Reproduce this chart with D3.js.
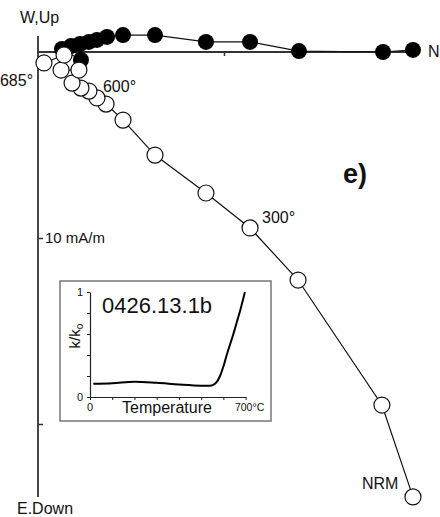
<!DOCTYPE html>
<html>
<head>
<meta charset="utf-8">
<script src="https://cdn.jsdelivr.net/npm/d3@7"></script>
<style>
  html, body { margin: 0; padding: 0; background: #fff; }
  svg { display: block; font-family: "Liberation Sans", Arial, Helvetica, sans-serif; }
</style>
</head>
<body>
<svg id="chart" width="440" height="517"></svg>
<script>
// Demagnetisation steps, NRM first (mA/m)
// Horizontal projection: north component vs west (up) component
const horizNorth = [20.16, 18.55, 14.03, 11.40, 9.03, 6.29, 4.57, 3.71, 3.17, 2.74, 2.26, 1.77, 2.31, 1.29];
const horizWest  = [0.11, 0.00, 0.05, 0.54, 0.54, 0.91, 0.91, 0.81, 0.65, 0.54, 0.43, 0.32, -0.43, 0.16];
// Vertical projection: north component vs down component
const vertNorth = [20.16, 18.49, 13.98, 11.40, 9.03, 6.29, 4.57, 3.66, 3.17, 2.74, 2.31, 1.83, 2.20, 1.24, 1.40, 0.32];
const vertDown  = [23.92, 18.98, 12.26, 9.46, 7.58, 5.54, 3.66, 2.80, 2.47, 2.10, 1.94, 1.67, 0.97, 0.97, 0.16, 0.59];
// Step labels and the vertical-projection point each one marks
const stepLabels = ["NRM", "300°", "600°", "685°"];
const stepIndex  = [0, 3, 9, 15];
const axisTicks = [10, 20];

// Susceptibility vs temperature (inset)
const tempC = [15, 100, 200, 300, 400, 500, 540, 565, 585, 600, 615, 630, 645, 660, 675, 690, 697];
const kRatio = [0.125, 0.13, 0.145, 0.135, 0.12, 0.108, 0.106, 0.13, 0.2, 0.29, 0.4, 0.5, 0.6, 0.71, 0.82, 0.94, 1.0];
const tempTicks = [0, 100, 200, 300, 400, 500, 600, 700];
const kTicks = [0, 0.2, 0.4, 0.6, 0.8, 1];

const svg = d3.select("#chart");
const ink = "#111";

const x = d3.scaleLinear().domain([0, 20]).range([38, 410]);
const y = d3.scaleLinear().domain([0, 20]).range([52, 424]); // down positive

// Axes
svg.append("line")
  .attr("x1", x(0)).attr("x2", x(20.45))
  .attr("y1", y(0)).attr("y2", y(0))
  .attr("stroke", "#333").attr("stroke-width", 1.8);
svg.append("line")
  .attr("x1", x(0)).attr("x2", x(0))
  .attr("y1", y(-0.86)).attr("y2", y(23.92))
  .attr("stroke", "#333").attr("stroke-width", 1.8);

const xAxis = svg.append("g")
  .attr("transform", `translate(0,${y(0)})`)
  .call(d3.axisBottom(x).tickValues([10]).tickSize(4).tickSizeOuter(0).tickFormat(""));
xAxis.select(".domain").remove();
xAxis.selectAll("line").attr("stroke", "#333").attr("stroke-width", 1.5);

const yAxis = svg.append("g")
  .attr("transform", `translate(${x(0)},0)`)
  .call(d3.axisRight(y).tickValues(axisTicks).tickSize(5).tickSizeOuter(0).tickPadding(2)
    .tickFormat(d => d === 10 ? "10 mA/m" : ""));
yAxis.select(".domain").remove();
yAxis.selectAll("line").attr("stroke", "#333").attr("stroke-width", 1.5);
yAxis.selectAll("text").attr("font-size", 15).attr("fill", ink)
  .attr("font-family", "Liberation Sans, Arial, sans-serif");

// Axis direction labels
const lab = (t, px, py, size, anchor) => svg.append("text")
  .attr("x", px).attr("y", py).attr("font-size", size).attr("fill", ink)
  .attr("text-anchor", anchor || "start").text(t);
lab("W,Up", 20, 23, 16);
lab("E.Down", 17, 514, 16);
lab("N", 428, 57, 16);

// Horizontal projection (filled)
const horiz = horizNorth.map((n, i) => [x(n), y(-horizWest[i])]);
svg.append("path").attr("d", d3.line()(horiz))
  .attr("fill", "none").attr("stroke", ink).attr("stroke-width", 1.2);
svg.append("g").selectAll("circle").data(horiz).join("circle")
  .attr("cx", d => d[0]).attr("cy", d => d[1]).attr("r", 8)
  .attr("fill", "#000");

// Vertical projection (open)
const vert = vertNorth.map((n, i) => [x(n), y(vertDown[i])]);
svg.append("path").attr("d", d3.line()(vert))
  .attr("fill", "none").attr("stroke", ink).attr("stroke-width", 1.2);
svg.append("g").selectAll("circle").data(vert).join("circle")
  .attr("cx", d => d[0]).attr("cy", d => d[1]).attr("r", 8)
  .attr("fill", "#fff").attr("stroke", ink).attr("stroke-width", 1.2);

// Step labels
const labelOffset = [[-51, -8], [12, -5], [14, 1], [-44, 23]];
stepIndex.forEach((idx, i) => {
  lab(stepLabels[i], vert[idx][0] + labelOffset[i][0], vert[idx][1] + labelOffset[i][1], 16);
});

// Panel letter
svg.append("text").attr("x", 343).attr("y", 183)
  .attr("font-size", 27).attr("font-weight", "bold").attr("fill", ink).text("e)");

// Inset: k/k0 against temperature
const inset = svg.append("g");
inset.append("rect")
  .attr("x", 60).attr("y", 281).attr("width", 211).attr("height", 140)
  .attr("fill", "#fff").attr("stroke", "#777").attr("stroke-width", 1.5);

const tx = d3.scaleLinear().domain([0, 700]).range([90, 245.6]);
const ky = d3.scaleLinear().domain([0, 1]).range([397, 292]);

const tAxis = inset.append("g").attr("transform", `translate(0,${ky(0)})`)
  .call(d3.axisBottom(tx).tickValues(tempTicks).tickSize(3).tickSizeOuter(0).tickFormat(""));
tAxis.select(".domain").attr("stroke", "#222").attr("stroke-width", 1.2);
tAxis.selectAll("line").attr("stroke", "#222");

const kAxis = inset.append("g").attr("transform", `translate(${tx(0)},0)`)
  .call(d3.axisLeft(ky).tickValues(kTicks).tickSize(3).tickSizeOuter(0).tickFormat(""));
kAxis.select(".domain").attr("stroke", "#222").attr("stroke-width", 1.2);
kAxis.selectAll("line").attr("stroke", "#222");

inset.append("path")
  .attr("d", d3.line().x((d, i) => tx(tempC[i])).y(d => ky(d)).curve(d3.curveMonotoneX)(kRatio))
  .attr("fill", "none").attr("stroke", "#000").attr("stroke-width", 2);

const small = (t, px, py, size, anchor) => inset.append("text")
  .attr("x", px).attr("y", py).attr("font-size", size).attr("fill", ink)
  .attr("text-anchor", anchor || "start").text(t);
small("0426.13.1b", 102, 313, 22);
small("Temperature", 167, 413, 16, "middle");
small("0", tx(0), 411, 11, "middle");
small("700°C", tx(700) + 4, 411, 10.5, "middle");
small("1", 80, ky(1) + 4, 11, "middle");
small("0", 80, ky(0) + 4, 11, "middle");

const kLabel = inset.append("text")
  .attr("transform", `translate(80,${ky(0.58)}) rotate(-90)`)
  .attr("text-anchor", "middle").attr("font-size", 15).attr("fill", ink);
kLabel.append("tspan").text("k/k");
kLabel.append("tspan").attr("font-size", 10).attr("dy", 3).text("o");
</script>
</body>
</html>
